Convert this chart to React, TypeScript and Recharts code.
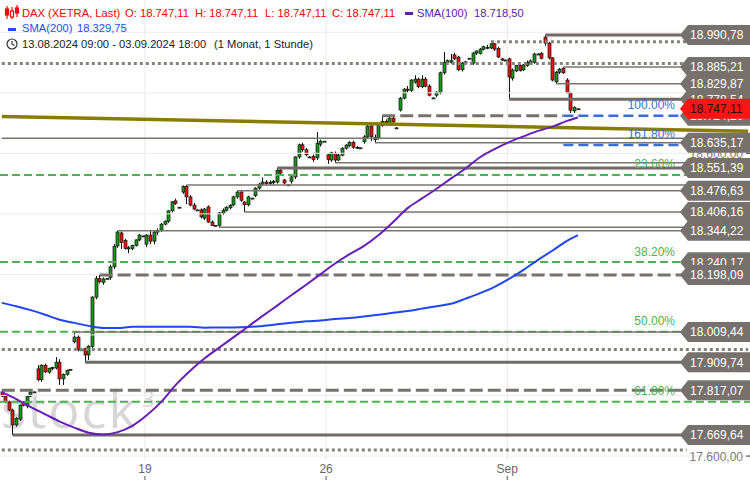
import React from "react";
import {
  ComposedChart,
  Bar,
  Line,
  XAxis,
  YAxis,
  ReferenceLine,
  CartesianGrid,
} from "recharts";

const CHART_W = 750;
const CHART_H = 480;
const SLOTS = 207; // 160 hourly candles + free room on the right for the price tags
const Y_MIN = 17587;
const Y_MAX = 19106.4;

// hourly candles per trading day: [open, high, low, close]
const AUG13 = [
  [17812, 17817.07, 17795, 17798], [17798, 17802, 17775, 17779], [17779, 17783, 17748, 17752],
  [17752, 17757, 17669.64, 17703], [17703, 17728, 17697, 17725], [17722, 17770, 17716, 17768],
  [17778, 17781, 17764, 17768], [17765, 17800, 17758, 17797], [17798, 17815, 17795, 17811],
  [17812, 17813, 17810, 17812],
];
const AUG14 = [
  [17888, 17900, 17847, 17852], [17852, 17903, 17845, 17900], [17900, 17905, 17875, 17878],
  [17877, 17892, 17872, 17890], [17889, 17895, 17883, 17893], [17891, 17927, 17886, 17910],
  [17910, 17920, 17835, 17855], [17855, 17873, 17835, 17870], [17870, 17886, 17866, 17883],
  [17886, 17887, 17885, 17886],
];
const AUG15 = [
  [17977, 18009.44, 17972, 17993], [17993, 17999, 17946, 17952], [17951, 17953, 17948, 17950],
  [17955, 17958, 17909.74, 17934], [17934, 17966, 17917, 17963], [17962, 18128, 17957, 18125],
  [18125, 18195, 18118, 18186], [18186, 18198.09, 18170, 18176], [18174, 18190, 18166, 18185],
  [18187, 18188, 18186, 18187],
];
const AUG16 = [
  [18190, 18232, 18182, 18225], [18225, 18300, 18218, 18292], [18294, 18344.22, 18288, 18340],
  [18337, 18342, 18284, 18305], [18312, 18318, 18282, 18286], [18284, 18294, 18270, 18288],
  [18286, 18298, 18280, 18296], [18296, 18315, 18292, 18314], [18314, 18334, 18310, 18330],
  [18327, 18328, 18326, 18327],
];
const AUG19 = [
  [18300, 18333, 18290, 18330], [18330, 18343, 18300, 18310], [18310, 18342, 18300, 18340],
  [18340, 18352, 18330, 18345], [18346, 18370, 18340, 18366], [18366, 18378, 18362, 18376],
  [18376, 18412, 18370, 18410], [18410, 18442, 18405, 18440], [18443, 18450, 18430, 18434],
  [18422, 18423, 18421, 18422],
];
const AUG20 = [
  [18472, 18494, 18466, 18490], [18490, 18495.3, 18432, 18456], [18456, 18462, 18425, 18429],
  [18429, 18436, 18412, 18416], [18413, 18414, 18412, 18413], [18413, 18418, 18385, 18390],
  [18386, 18420, 18380, 18416], [18423, 18428, 18370, 18373], [18373, 18378, 18360, 18362],
  [18362, 18363, 18361, 18362],
];
const AUG21 = [
  [18362, 18406, 18355.6, 18403], [18403, 18418, 18396, 18412], [18412, 18425, 18408, 18422],
  [18420, 18432, 18415, 18428], [18430, 18460, 18425, 18456], [18456, 18476.63, 18450, 18472],
  [18472, 18476, 18440, 18445], [18439, 18442, 18406.16, 18430], [18430, 18460, 18425, 18456],
  [18452, 18453, 18451, 18452],
];
const AUG22 = [
  [18460, 18488, 18455, 18485], [18485, 18502, 18480, 18498], [18498, 18520, 18492, 18505],
  [18505, 18512, 18494, 18500], [18500, 18510, 18494, 18504], [18503, 18512, 18496, 18508],
  [18505, 18551.39, 18500, 18544], [18544, 18548, 18530, 18535], [18512, 18515, 18497, 18502],
  [18496, 18497, 18495, 18496],
];
const AUG23 = [
  [18508, 18525, 18500, 18522], [18522, 18590, 18515, 18588], [18588, 18632, 18582, 18628],
  [18628, 18635, 18605, 18612], [18612, 18618, 18590, 18595], [18588, 18590, 18586, 18588],
  [18590, 18596, 18572, 18580], [18585, 18670, 18578, 18632], [18630, 18645, 18622, 18640],
  [18640, 18641, 18639, 18640],
];
const AUG26 = [
  [18595, 18600, 18565, 18580], [18578, 18605, 18572, 18602], [18600, 18606, 18568.5, 18578],
  [18578, 18598, 18574, 18594], [18594, 18620, 18590, 18617], [18617, 18630, 18612, 18627],
  [18626, 18640, 18620, 18636], [18636, 18642, 18615, 18620], [18620, 18624, 18614, 18618],
  [18618, 18619, 18617, 18618],
];
const AUG27 = [
  [18638, 18660, 18632, 18654], [18654, 18695, 18648, 18690], [18690, 18700, 18640, 18655],
  [18652, 18662, 18635.17, 18645], [18650, 18698, 18645, 18693], [18692, 18724.2, 18688, 18705],
  [18705, 18712, 18692, 18700], [18698, 18720, 18692, 18716], [18716, 18722, 18700, 18704],
  [18684, 18686, 18682, 18684],
];
const AUG28 = [
  [18743, 18786, 18738, 18782], [18782, 18815, 18778, 18812], [18812, 18822, 18800, 18808],
  [18808, 18845, 18803, 18842], [18835, 18858, 18830, 18845], [18845, 18850, 18815, 18820],
  [18820, 18858, 18815, 18845], [18845, 18852, 18818, 18822], [18822, 18828, 18788, 18792],
  [18783, 18784, 18782, 18783],
];
const AUG29 = [
  [18792, 18805, 18785, 18802], [18800, 18870, 18795, 18866], [18866, 18935, 18860, 18900],
  [18900, 18910, 18895, 18906], [18900, 18928, 18896, 18906], [18925, 18932, 18908, 18912],
  [18918, 18922, 18872, 18876], [18876, 18902, 18870, 18898], [18898, 18905, 18895, 18902],
  [18914, 18915, 18913, 18914],
];
const AUG30 = [
  [18898, 18935, 18892, 18931], [18931, 18940, 18925, 18938], [18930, 18948, 18926, 18944],
  [18944, 18955, 18940, 18952], [18950, 18958, 18944, 18948], [18948, 18968.6, 18944, 18962],
  [18962, 18965, 18938, 18944], [18946, 18952, 18915, 18918], [18912, 18915, 18905, 18908],
  [18908, 18909, 18907, 18908],
];
const SEP02 = [
  [18912, 18916, 18778.54, 18852], [18848, 18880, 18840, 18875], [18872, 18892, 18868, 18890],
  [18890, 18894, 18870, 18874], [18876, 18895, 18872, 18892], [18890, 18906, 18886, 18900],
  [18898, 18910, 18894, 18905], [18900, 18932, 18896, 18928], [18928, 18930, 18926, 18928],
  [18930, 18935, 18910, 18914],
];
const SEP03 = [
  [18984, 18990.78, 18955, 18964], [18964, 18968, 18910, 18915], [18915, 18918, 18838, 18842],
  [18836, 18872, 18829.87, 18868], [18868, 18882, 18862, 18878], [18880, 18885.21, 18862, 18866],
  [18842, 18848, 18798, 18800], [18799, 18803, 18733, 18742], [18740, 18755, 18733, 18752],
  [18747.11, 18748, 18746, 18747.11],
];
const TRADING_DAYS = [
  AUG13, AUG14, AUG15, AUG16, AUG19, AUG20, AUG21, AUG22,
  AUG23, AUG26, AUG27, AUG28, AUG29, AUG30, SEP02, SEP03,
];

// moving averages, one value every 4th candle (last one on the final candle)
const SMA100 = [
  17811, 17788, 17762, 17738, 17714, 17694, 17677, 17671, 17679, 17700,
  17735, 17779, 17835, 17882, 17923, 17958, 17993, 18028, 18063, 18097,
  18132, 18166, 18201, 18236, 18267, 18294, 18330, 18373, 18419, 18451,
  18483, 18517, 18550, 18587, 18614, 18637, 18656, 18674, 18688, 18707, 18718.5,
];
const SMA200 = [
  18106, 18095, 18082, 18067, 18050, 18040, 18030, 18023, 18023, 18027,
  18027, 18027, 18027, 18027, 18024, 18025, 18025, 18026, 18030, 18035,
  18040, 18045, 18048, 18053, 18056, 18061, 18067, 18073, 18079, 18087,
  18095, 18103, 18120, 18138, 18159, 18185, 18215, 18248, 18279, 18311, 18329.75,
];

const DAY_TICKS = [40, 90, 140];
const DAY_TICK_LABELS = ["19", "26", "Sep"];
const GRID_PRICES = [17600, 17800, 18000, 18200, 18400, 18600, 18800, 19000];

// horizontal levels: [price, first candle]
const THIN_LEVELS = [
  [18885.21, 155], [18829.87, 153], [18649.6, 0], [18635.17, 103], [18568.5, 92],
  [18495.3, 51], [18476.63, 65], [18406.16, 67], [18355.6, 60], [18344.22, 32], [18009.44, 20],
];
const THICK_LEVELS = [
  [18990.78, 150], [18778.54, 140], [18551.39, 76], [17909.74, 23], [17669.64, 3],
];
// [price, first candle, last slot]
const DOTTED_LEVELS = [
  [18968.6, 135, 189], [18897, 0, 206], [17952, 0, 206], [17620, 0, 189],
];
const DASHED_LEVELS = [
  [18724.2, 105, 155], [18198.09, 27, 189], [17817.07, 0, 189],
];
const FIB_GREEN = [18528.4, 18241, 18010.5, 17779.6];
const FIB_GREEN_LABELS = ["23.60%", "38.20%", "50.00%", "61.80%"];
const FIB_BLUE = [18724.2, 18627.5];
const FIB_BLUE_LABELS = ["100.00%", "161.80%"];
const FIB_BLUE_FROM = 155;
const FIB_BLUE_TO = 189;
const TREND_LINE = [18721.3, 18673.0]; // olive trend line at first and last slot

// price tags on the right, in drawing order
const TAG_PRICES = [
  18990.78, 18885.21, 18829.87, 18778.54, 18724.2, 18600, 18635.17, 18747.11,
  18551.39, 18476.63, 18406.16, 18344.22, 18240.17, 18198.09, 18009.44,
  17909.74, 17817.07, 17669.64, 17600,
];
const TAG_KINDS = [
  "box", "box", "box", "box", "box", "plain", "box", "last",
  "box", "box", "box", "box", "box", "box", "box",
  "box", "box", "box", "plain",
];

const GREEN = "#1c941c";
const RED = "#ee1111";
const LEVEL_GRAY = "#7a7571";
const FONT = "'Liberation Sans', Arial, sans-serif";

const CANDLES = TRADING_DAYS.flat();

const chartData = Array.from({ length: SLOTS }, (_, i) => {
  const k = CANDLES[i];
  return {
    i,
    o: k ? k[0] : undefined,
    h: k ? k[1] : undefined,
    l: k ? k[2] : undefined,
    c: k ? k[3] : undefined,
    range: k ? [k[2], k[1]] : undefined,
    sma100: undefined as number | undefined,
    sma200: undefined as number | undefined,
  };
});
SMA100.forEach((v, k) => {
  chartData[Math.min(k * 4, CANDLES.length - 1)].sma100 = v;
});
SMA200.forEach((v, k) => {
  chartData[Math.min(k * 4, CANDLES.length - 1)].sma200 = v;
});

function fmtDe(v: number) {
  const [int, dec] = v.toFixed(2).split(".");
  return int.replace(/\B(?=(\d{3})+(?!\d))/g, ".") + "," + dec;
}

function Candle(props: any) {
  const { x, y, width, height, payload } = props;
  if (!payload || payload.o == null) return null;
  const { o, h, l, c } = payload;
  const top = Math.min(y, y + height);
  const bot = Math.max(y, y + height);
  const span = h - l;
  const py = (v: number) => (span > 0 ? top + ((h - v) / span) * (bot - top) : top);
  const cx = Math.round(x + width / 2) + 0.5;
  const yo = py(o);
  const yc = py(c);
  const bTop = Math.min(yo, yc);
  const bH = Math.max(1, Math.abs(yc - yo));
  return (
    <g>
      <line x1={cx} x2={cx} y1={top} y2={bot} stroke="#111" strokeWidth={1} />
      <rect
        x={cx - 1.5}
        y={bTop}
        width={3}
        height={bH}
        fill={c >= o ? GREEN : RED}
        stroke="#111"
        strokeWidth={0.7}
      />
    </g>
  );
}

function DayTick({ x, y, payload }: any) {
  const idx = DAY_TICKS.indexOf(payload.value);
  const tx = x - CHART_W / SLOTS / 2;
  return (
    <g>
      <text x={tx} y={y + 13} textAnchor="middle" fontSize={12} fill="#666" fontFamily={FONT}>
        {DAY_TICK_LABELS[idx]}
      </text>
      <line x1={tx} x2={tx} y1={y + 16} y2={y + 20} stroke="#555" />
    </g>
  );
}

function PriceTag({ viewBox, price, kind }: any) {
  if (!viewBox) return null;
  const right = viewBox.x + viewBox.width;
  const cy = viewBox.y;
  const text = fmtDe(price);
  if (kind === "plain") {
    return (
      <g>
        <text x={right - 7} y={cy + 4.5} textAnchor="end" fontSize={12} fill="#7a7a7a" fontFamily={FONT}>
          {text}
        </text>
        <line x1={right - 4} x2={right} y1={cy} y2={cy} stroke="#333" />
      </g>
    );
  }
  const left = right - 70;
  const fill = kind === "last" ? "#ff1414" : "#76716c";
  const color = kind === "last" ? "#2a0000" : "#ffffff";
  return (
    <g>
      <path
        d={`M${left},${cy} L${left + 8},${cy - 10} L${right},${cy - 10} L${right},${cy + 10} L${left + 8},${cy + 10} Z`}
        fill={fill}
      />
      <text x={left + 10} y={cy + 4.3} fontSize={12} fill={color} fontFamily={FONT}>
        {text}
      </text>
    </g>
  );
}

function FibLabel({ viewBox, text, color }: any) {
  if (!viewBox) return null;
  const right = viewBox.x + viewBox.width;
  return (
    <text x={right - 75} y={viewBox.y - 6.5} textAnchor="end" fontSize={12} fill={color} fontFamily={FONT}>
      {text}
    </text>
  );
}

function Header() {
  return (
    <svg width={CHART_W} height={56} style={{ position: "absolute", left: 0, top: 0 }} fontFamily={FONT}>
      <g fill="none" stroke="#ff0000" strokeWidth={1.2}>
        <line x1={7} x2={7} y1={6} y2={19} />
        <rect x={5.5} y={9} width={3} height={6} fill="#ff0000" />
        <line x1={12} x2={12} y1={7} y2={19} />
        <rect x={10.5} y={11} width={3} height={6} fill="#fff" />
        <line x1={17} x2={17} y1={5} y2={17} />
        <rect x={15.5} y={8} width={3} height={5} fill="#ff0000" />
      </g>
      <g fontSize={11.2} fill="#ff0000">
        <text x={22} y={16.7}>DAX (XETRA, Last)</text>
        <text x={125} y={16.7}>O: 18.747,11</text>
        <text x={195} y={16.7}>H: 18.747,11</text>
        <text x={265} y={16.7}>L: 18.747,11</text>
        <text x={332} y={16.7}>C: 18.747,11</text>
      </g>
      <rect x={405} y={12} width={8} height={3} fill="#5a22b4" />
      <text x={417} y={16.7} fontSize={11.2} fill="#5a22b4">SMA(100)</text>
      <text x={474} y={16.7} fontSize={11.2} fill="#5a22b4">18.718,50</text>
      <rect x={8} y={28} width={8} height={3} fill="#1f4bff" />
      <text x={22} y={32.3} fontSize={11.2} fill="#1f4bff">SMA(200)</text>
      <text x={77} y={32.3} fontSize={11.2} fill="#1f4bff">18.329,75</text>
      <g stroke="#333" strokeWidth={1.2} fill="none">
        <circle cx={12} cy={44} r={5} />
        <polyline points="12,41 12,44 14.5,45.5" />
      </g>
      <text x={22} y={48.3} fontSize={11.2} fill="#222">13.08.2024 09:00 - 03.09.2024 18:00</text>
      <text x={214} y={48.3} fontSize={11.2} fill="#222">(1 Monat, 1 Stunde)</text>
    </svg>
  );
}

export default function App() {
  return (
    <div style={{ position: "relative", width: CHART_W, height: CHART_H, overflow: "hidden", background: "#fff" }}>
      <style>{"body{margin:0}"}</style>
      <svg width={CHART_W} height={CHART_H} style={{ position: "absolute", left: 0, top: 0 }}>
        <text x={1} y={428} fontSize={52} letterSpacing={2} fill="#d6d6d6" fontFamily="'Open Sans', sans-serif">
          stock
        </text>
        <text x={142} y={407} fontSize={22} fill="#d6d6d6" fontFamily="'Open Sans', sans-serif">
          3
        </text>
      </svg>
      <div style={{ position: "absolute", left: 0, top: 0 }}>
        <ComposedChart
          width={CHART_W}
          height={CHART_H}
          data={chartData}
          margin={{ top: 0, right: 0, bottom: 0, left: 0 }}
          barCategoryGap={0}
          style={{ fontFamily: FONT }}
        >
          <CartesianGrid
            horizontal={false}
            stroke="#e8e8e8"
            verticalCoordinatesGenerator={({ xAxis, offset }: any) =>
              DAY_TICKS.map((d) =>
                xAxis && typeof xAxis.scale === "function"
                  ? xAxis.scale(d)
                  : offset.left + (d * offset.width) / SLOTS
              )
            }
          />
          <XAxis
            dataKey="i"
            type="category"
            ticks={DAY_TICKS}
            interval={0}
            height={20}
            axisLine={false}
            tickLine={false}
            tickSize={0}
            tickMargin={0}
            tick={<DayTick />}
          />
          <YAxis hide type="number" domain={[Y_MIN, Y_MAX]} allowDataOverflow />

          {GRID_PRICES.map((p) => (
            <ReferenceLine key={`g${p}`} y={p} stroke="#ececec" strokeWidth={1} />
          ))}

          {FIB_GREEN.map((p) => (
            <ReferenceLine key={`fg${p}`} y={p} stroke="#4db150" strokeWidth={2} strokeDasharray="8 4" />
          ))}
          {FIB_BLUE.map((p) => (
            <ReferenceLine
              key={`fb${p}`}
              segment={[{ x: FIB_BLUE_FROM, y: p }, { x: FIB_BLUE_TO, y: p }]}
              stroke="#3a6fd2"
              strokeWidth={2.5}
              strokeDasharray="10 5"
            />
          ))}
          {THIN_LEVELS.map(([p, from]) => (
            <ReferenceLine
              key={`t${p}`}
              segment={[{ x: from, y: p }, { x: SLOTS - 1, y: p }]}
              stroke={LEVEL_GRAY}
              strokeWidth={1.5}
            />
          ))}
          {THICK_LEVELS.map(([p, from]) => (
            <ReferenceLine
              key={`k${p}`}
              segment={[{ x: from, y: p }, { x: SLOTS - 1, y: p }]}
              stroke="#6f6a66"
              strokeWidth={3}
            />
          ))}
          {DOTTED_LEVELS.map(([p, from, to]) => (
            <ReferenceLine
              key={`d${p}`}
              segment={[{ x: from, y: p }, { x: to, y: p }]}
              stroke="#858079"
              strokeWidth={3}
              strokeDasharray="3 3"
            />
          ))}
          {DASHED_LEVELS.map(([p, from, to]) => (
            <ReferenceLine
              key={`s${p}`}
              segment={[{ x: from, y: p }, { x: to, y: p }]}
              stroke="#77726e"
              strokeWidth={3}
              strokeDasharray="13 5"
            />
          ))}
          <ReferenceLine
            segment={[{ x: 0, y: TREND_LINE[0] }, { x: SLOTS - 1, y: TREND_LINE[1] }]}
            stroke="#877d00"
            strokeWidth={3.5}
          />

          <Bar dataKey="range" barSize={3} shape={(p: any) => <Candle {...p} />} isAnimationActive={false} />
          <Line
            dataKey="sma200"
            type="monotone"
            stroke="#1f45f5"
            strokeWidth={2}
            dot={false}
            activeDot={false}
            connectNulls
            isAnimationActive={false}
          />
          <Line
            dataKey="sma100"
            type="monotone"
            stroke="#6420b8"
            strokeWidth={2}
            dot={false}
            activeDot={false}
            connectNulls
            isAnimationActive={false}
          />

          {FIB_GREEN.map((p, k) => (
            <ReferenceLine
              key={`fgl${p}`}
              y={p}
              stroke="none"
              label={<FibLabel text={FIB_GREEN_LABELS[k]} color="#4db150" />}
            />
          ))}
          {FIB_BLUE.map((p, k) => (
            <ReferenceLine
              key={`fbl${p}`}
              y={p}
              stroke="none"
              label={<FibLabel text={FIB_BLUE_LABELS[k]} color="#3a6fd2" />}
            />
          ))}
          {TAG_PRICES.map((p, k) => (
            <ReferenceLine
              key={`tag${k}`}
              y={p}
              stroke="none"
              label={<PriceTag price={p} kind={TAG_KINDS[k]} />}
            />
          ))}
        </ComposedChart>
      </div>
      <Header />
    </div>
  );
}
